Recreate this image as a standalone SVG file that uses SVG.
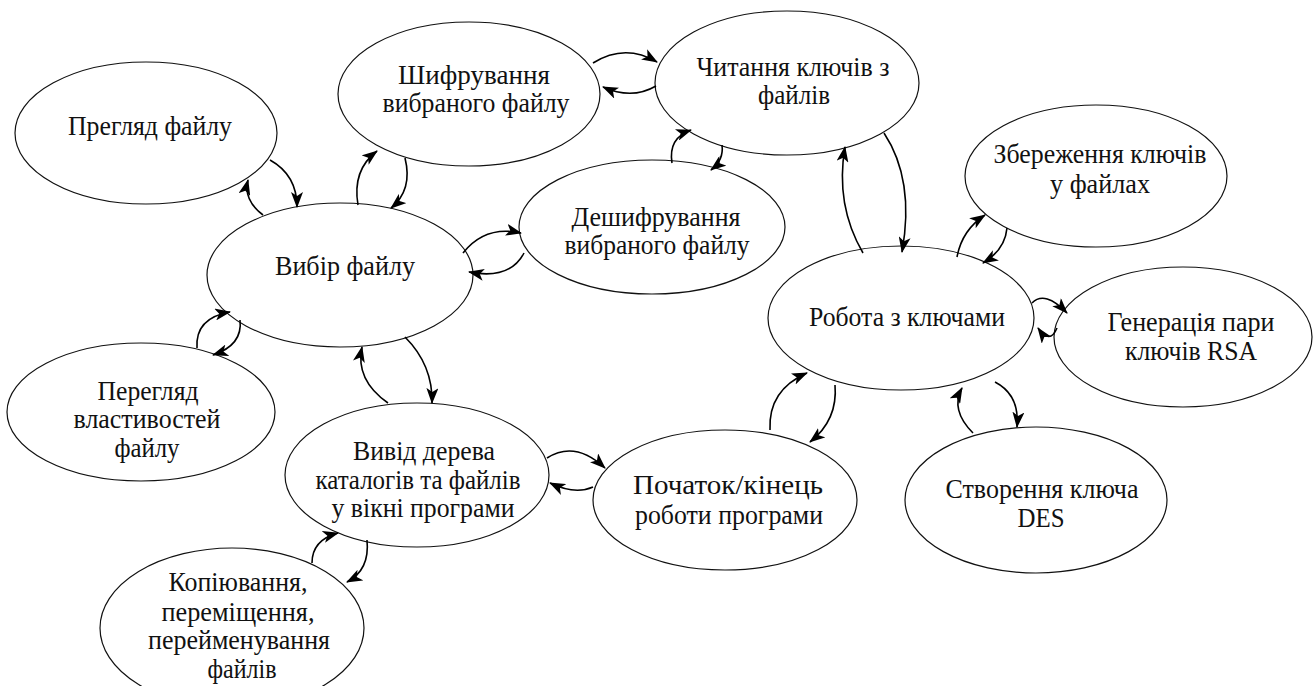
<svg xmlns="http://www.w3.org/2000/svg" width="1313" height="686" viewBox="0 0 1313 686">
  <style>
    .node ellipse { fill: #ffffff; stroke: #111111; stroke-width: 1.2; }
    .node text { font-size: 27px; fill: #111111; text-anchor: middle; }
    .links path { fill: none; stroke: #000000; stroke-width: 1.6; marker-end: url(#arrow); }
  </style>
  <defs>
    <marker id="arrow" markerUnits="userSpaceOnUse" markerWidth="16" markerHeight="12" viewBox="0 0 16 12" refX="15" refY="6" orient="auto">
      <path d="M0,0 L16,6 L0,12 L4,6 Z" fill="#000000"/>
    </marker>
  </defs>
  <rect width="1313" height="686" fill="#ffffff"/>

  <g font-family="Liberation Serif, Times New Roman, serif">
  <g id="n-preview" class="node">
    <ellipse cx="146" cy="133" rx="131" ry="71"/>
    <text x="150" y="135" textLength="164" lengthAdjust="spacingAndGlyphs">Прегляд файлу</text>
  </g>
  <g id="n-encrypt" class="node">
    <ellipse cx="469" cy="94" rx="131" ry="72"/>
    <text x="474" y="84" textLength="152" lengthAdjust="spacingAndGlyphs">Шифрування</text>
    <text x="476" y="112" textLength="187" lengthAdjust="spacingAndGlyphs">вибраного файлу</text>
  </g>
  <g id="n-readkeys" class="node">
    <ellipse cx="787" cy="83" rx="132" ry="72"/>
    <text x="793" y="76" textLength="193" lengthAdjust="spacingAndGlyphs">Читання ключів з</text>
    <text x="794" y="104" textLength="72" lengthAdjust="spacingAndGlyphs">файлів</text>
  </g>
  <g id="n-decrypt" class="node">
    <ellipse cx="652" cy="227" rx="133" ry="67"/>
    <text x="656" y="226" textLength="169" lengthAdjust="spacingAndGlyphs">Дешифрування</text>
    <text x="657" y="254" textLength="185" lengthAdjust="spacingAndGlyphs">вибраного файлу</text>
  </g>
  <g id="n-select" class="node">
    <ellipse cx="340" cy="275" rx="133" ry="72"/>
    <text x="345" y="275" textLength="140" lengthAdjust="spacingAndGlyphs">Вибір файлу</text>
  </g>
  <g id="n-props" class="node">
    <ellipse cx="141" cy="412" rx="134" ry="69"/>
    <text x="148" y="400" textLength="101" lengthAdjust="spacingAndGlyphs">Перегляд</text>
    <text x="147" y="428" textLength="147" lengthAdjust="spacingAndGlyphs">властивостей</text>
    <text x="147" y="457" textLength="65" lengthAdjust="spacingAndGlyphs">файлу</text>
  </g>
  <g id="n-tree" class="node">
    <ellipse cx="417" cy="475" rx="132" ry="72"/>
    <text x="424" y="460" textLength="142" lengthAdjust="spacingAndGlyphs">Вивід дерева</text>
    <text x="418" y="489" textLength="205" lengthAdjust="spacingAndGlyphs">каталогів та файлів</text>
    <text x="423" y="517" textLength="183" lengthAdjust="spacingAndGlyphs">у вікні програми</text>
  </g>
  <g id="n-copy" class="node">
    <ellipse cx="232" cy="628" rx="132" ry="80"/>
    <text x="238" y="591" textLength="139" lengthAdjust="spacingAndGlyphs">Копіювання,</text>
    <text x="238" y="621" textLength="153" lengthAdjust="spacingAndGlyphs">переміщення,</text>
    <text x="239" y="649" textLength="182" lengthAdjust="spacingAndGlyphs">перейменування</text>
    <text x="242" y="678" textLength="69" lengthAdjust="spacingAndGlyphs">файлів</text>
  </g>
  <g id="n-startstop" class="node">
    <ellipse cx="725" cy="500" rx="132" ry="70"/>
    <text x="728" y="494" textLength="190" lengthAdjust="spacingAndGlyphs">Початок/кінець</text>
    <text x="729" y="524" textLength="188" lengthAdjust="spacingAndGlyphs">роботи програми</text>
  </g>
  <g id="n-keys" class="node">
    <ellipse cx="901" cy="318" rx="133" ry="72"/>
    <text x="907" y="326" textLength="196" lengthAdjust="spacingAndGlyphs">Робота з ключами</text>
  </g>
  <g id="n-savekeys" class="node">
    <ellipse cx="1096" cy="176" rx="131" ry="71"/>
    <text x="1100" y="163" textLength="213" lengthAdjust="spacingAndGlyphs">Збереження ключів</text>
    <text x="1100" y="193" textLength="100" lengthAdjust="spacingAndGlyphs">у файлах</text>
  </g>
  <g id="n-rsa" class="node">
    <ellipse cx="1183" cy="337" rx="129" ry="70"/>
    <text x="1191" y="331" textLength="167" lengthAdjust="spacingAndGlyphs">Генерація пари</text>
    <text x="1191" y="360" textLength="132" lengthAdjust="spacingAndGlyphs">ключів RSA</text>
  </g>
  <g id="n-des" class="node">
    <ellipse cx="1036" cy="500" rx="131" ry="73"/>
    <text x="1042" y="498" textLength="193" lengthAdjust="spacingAndGlyphs">Створення ключа</text>
    <text x="1041" y="527" textLength="47" lengthAdjust="spacingAndGlyphs">DES</text>
  </g>
  </g>

  <g id="connectors" class="links">
    <path d="M270,160 Q297,175 297,207"/>
    <path d="M263,215 Q243,200 248,180"/>
    <path d="M358,205 Q352,170 377,151"/>
    <path d="M405,158 Q413,190 391,208"/>
    <path d="M593,63 Q625,43 657,62"/>
    <path d="M656,86 Q632,100 603,87"/>
    <path d="M672,163 Q668,138 691,130"/>
    <path d="M722,145 Q724,160 711,170"/>
    <path d="M463,253 Q485,225 521,233"/>
    <path d="M524,253 Q510,280 469,272"/>
    <path d="M863,253 Q835,205 845,147"/>
    <path d="M884,133 Q915,180 902,252"/>
    <path d="M957,257 Q962,230 985,215"/>
    <path d="M1007,228 Q1005,250 983,263"/>
    <path d="M1032,303 Q1045,290 1067,313"/>
    <path d="M1057,328 Q1050,345 1038,328"/>
    <path d="M973,433 Q950,410 962,388"/>
    <path d="M995,382 Q1020,395 1017,427"/>
    <path d="M770,430 Q768,390 807,373"/>
    <path d="M835,385 Q838,420 810,442"/>
    <path d="M547,458 Q575,440 605,468"/>
    <path d="M593,487 Q575,495 550,483"/>
    <path d="M405,337 Q433,365 432,403"/>
    <path d="M388,403 Q355,380 362,347"/>
    <path d="M312,563 Q312,540 338,533"/>
    <path d="M367,540 Q370,570 347,582"/>
    <path d="M197,348 Q195,318 230,312"/>
    <path d="M240,320 Q243,345 213,355"/>
  </g>
</svg>
